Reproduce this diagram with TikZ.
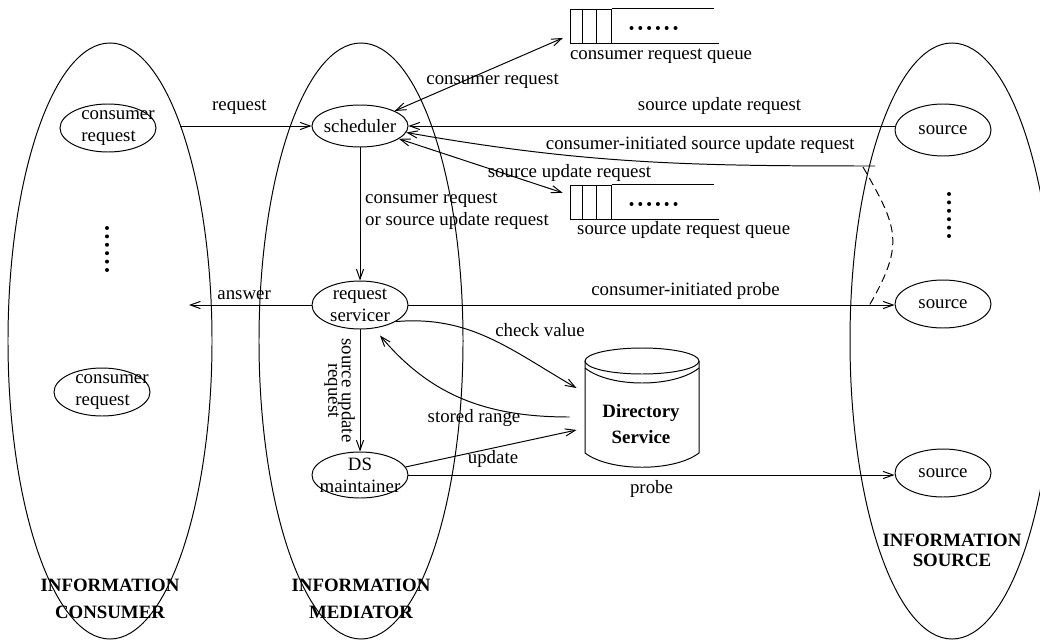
\documentclass[tikz,border=0pt]{standalone}
\usepackage{fontspec}
\setmainfont{Liberation Serif}
\usetikzlibrary{shapes.geometric, arrows.meta, positioning, calc}
\tikzset{
  >={Straight Barb[length=2.5mm, width=1.8mm]}, % open arrow heads
  realm/.style={ellipse, draw, minimum width=5.1cm, minimum height=14.9cm}, % the three big domains
  agent/.style={ellipse, draw, align=center, inner sep=-3mm, minimum width=2.4cm, minimum height=1.2cm}, % small ellipses, text may stick out
  realm label/.style={font=\fontsize{13.4}{19}\selectfont\bfseries, align=center}, % bold captions
  cell/.style={draw, inner sep=0pt, minimum width=1.025cm, minimum height=0.85cm}, % first three slots of a queue
  flow/.style={->},
  both/.style={<->, shorten >=1.8mm},
}

\begin{document}
\begin{tikzpicture}[x=0.25mm, y=0.25mm, line width=0.7pt, font=\fontsize{13.4}{15.6}\selectfont]
  \useasboundingbox (0,0) rectangle (1040,-642);

  % the three domains
  \node[realm] (consumers) at (110,-341) {};
  \node[realm] (mediator) at (361,-341) {};
  \node[realm] (sources) at (952,-341) {};
  \node[realm label] (consumerslab) at (110,-599) {INFORMATION\\CONSUMER};
  \node[realm label] (mediatorlab) at (361,-599) {INFORMATION\\MEDIATOR};
  \node[realm label, font=\fontsize{13.4}{14.2}\selectfont\bfseries] (sourceslab) at (952,-550) {INFORMATION\\SOURCE};

  % consumers
  \node[agent, align=left, inner sep=-5mm] (creq1) at (108,-128) {\hspace*{5mm}consumer\\\hspace*{5mm}request};
  \node[agent, align=left, inner sep=-5mm] (creq2) at (102,-392) {\hspace*{5mm}consumer\\\hspace*{5mm}request};

  % mediator
  \node[agent, minimum height=1.05cm] (sched) at (360,-126) {scheduler};
  \node[agent] (serv) at (360,-305) {request\\servicer};
  \node[agent, minimum height=1.15cm] (dsm) at (360,-475) {DS\\maintainer};

  % sources
  \node[agent, minimum height=1.3cm] (src1) at (943,-130) {source};
  \node[agent] (src2) at (943,-304) {source};
  \node[agent] (src3) at (943,-473) {source};

  % vertical dots
  \foreach \i in {0,...,5} {
    \fill (107,-228-8.4*\i) circle (2);
    \fill (949,-194-8.4*\i) circle (2);
  }

  % queues
  \node[cell] (cq) at (590.5,-26) {};
  \node[cell] (sq) at (590.5,-202) {};
  \foreach \q in {cq, sq} {
    \draw ($(\q.north west)+(13,0)$) -- ($(\q.south west)+(13,0)$);
    \draw ($(\q.north west)+(27,0)$) -- ($(\q.south west)+(27,0)$);
    \draw (\q.north east) -- ++(102,0);
    \draw (\q.south east) -- ++(107,0);
    \foreach \i in {0,...,5}
      \fill ($(\q.east)+(20+8.8*\i,-2)$) circle (2);
  }
  \node[below right=1.2mm and 0pt of cq.south west, inner sep=0pt] (cqlab) {consumer request queue};
  \node[below right=1pt and 1.8mm of sq.south west, inner sep=0pt] (sqlab) {source update request queue};

  % directory service drum
  \draw (642,-361) ellipse (57 and 13);
  \draw (585,-361) -- (585,-453) .. controls (610,-472) and (674,-472) .. (699,-453) -- (699,-361);
  \draw (585,-368) .. controls (610,-388) and (674,-388) .. (699,-368);
  \node[realm label, minimum width=3.25cm] (ds) at (641,-424) {Directory\\Service};

  % requests into the scheduler
  \draw[flow] (sched.west -| consumers.72) -- node[above=1.7mm, pos=0.45] (lreq) {request} (sched.west);
  \draw[both] (sched) -- node[below, pos=0.56] (lcreq) {consumer request} (cq);
  \draw[flow] (src1.west |- sched.east) -- node[above=1.7mm, pos=0.36] (lsur1) {source update request} (sched.east);
  \coordinate (cisu) at (875,-166);
  \draw[flow] (cisu) to[out=180, in=-10] node[above=1.4mm, pos=0.36] (lcisu) {consumer-initiated source update request} (sched.-8);
  \draw[dash pattern=on 2mm off 1.2mm] ($(cisu)+(-12,-1)$) to[out=-60, in=60, looseness=1.3] ($(src2.west)+(-25,-1)$);
  \draw[both] (sched) -- node[above=2mm, pos=1] (lsur2) {source update request} (sq);

  % servicing
  \draw[flow] (sched) -- node[right, pos=0.48, align=left] (lmix) {consumer request\\or source update request} (serv);
  \coordinate (ans) at (189,-305);
  \draw[flow] (serv.west) -- node[above, pos=0.55] (lans) {answer} (ans);
  \draw[flow] (serv.east) -- node[above, pos=0.57] (lprb1) {consumer-initiated probe} (serv.east -| src2.west);
  \draw[flow] (serv.-25) to[out=5, in=150] ($(ds.west)+(1,36)$);
  \node (lchk) at (540,-330) {check value};
  \draw[flow] ($(ds.west)+(-6,7)$) to[out=180, in=-50] ($(serv.south)+(20,-6)$);
  \node (lsto) at (474,-418) {stored range};
  \draw[flow] (serv) -- node[rotate=-90, anchor=north, align=center, font={\fontsize{13.4}{9.5}\selectfont\lineskiplimit=-20pt}] (lsud) {source update\\request} (dsm);
  \draw[flow] (dsm.10) -- ($(ds.west)+(1,-6)$);
  \node (lupd) at (493,-459) {update};
  \draw[flow] (dsm.east) -- node[below, pos=0.5] (lprb2) {probe} (dsm.east -| src3.west);
\end{tikzpicture}
\end{document}
